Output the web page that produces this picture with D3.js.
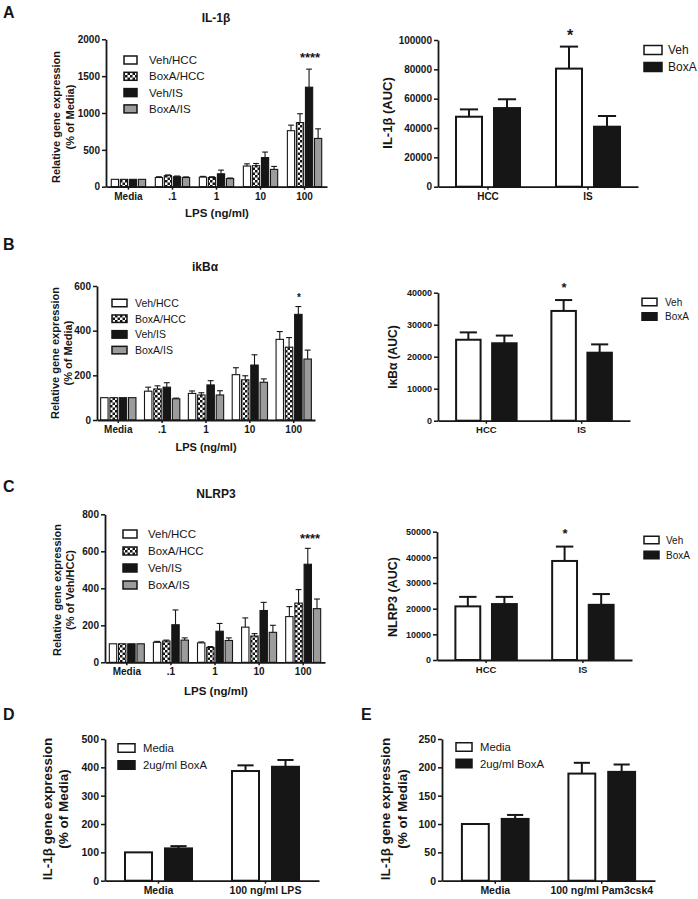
<!DOCTYPE html>
<html><head><meta charset="utf-8">
<script src="https://cdn.jsdelivr.net/npm/d3@7"></script>
<style>body{margin:0;background:#fff}svg{display:block}text{font-family:"Liberation Sans",Arial,sans-serif}</style>
</head><body>
<script>
// ---------- DATA ----------
const doseGroups = ["Media", ".1", "1", "10", "100"];
const doseSeries = ["Veh/HCC", "BoxA/HCC", "Veh/IS", "BoxA/IS"];

const il1bMeans = [[100,125,130,280,760],[100,150,125,285,870],[100,135,175,395,1350],[100,125,110,235,655]];
const il1bErrs  = [[0,10,10,30,75],[0,10,10,30,120],[0,10,50,75,245],[0,8,8,40,130]];
const il1bTicks = [0,500,1000,1500,2000];

const ikbMeans = [[100,129,119,203,361],[100,139,112,180,326],[100,147,157,246,473],[100,95,112,169,273]];
const ikbErrs  = [[0,18,11,31,35],[0,14,10,18,43],[0,20,19,46,35],[0,3,19,15,40]];
const ikbTicks = [0,200,400,600];

const nlrpMeans = [[100,108,105,190,247],[100,115,80,142,320],[100,203,168,280,530],[100,120,118,162,290]];
const nlrpErrs  = [[0,5,5,50,54],[0,5,5,13,73],[0,80,42,44,86],[0,12,14,38,52]];
const nlrpTicks = [0,200,400,600,800];

const aucGroups = ["HCC", "IS"];
const aucSeries = ["Veh", "BoxA"];
const il1bAucMeans = [[47700,80500],[53600,40900]];
const il1bAucErrs  = [[5000,15000],[6000,7300]];
const il1bAucTicks = [0,20000,40000,60000,80000,100000];
const ikbAucMeans = [[25300,34300],[24200,21250]];
const ikbAucErrs  = [[2300,3400],[2400,2600]];
const ikbAucTicks = [0,10000,20000,30000,40000];
const nlrpAucMeans = [[20900,38600],[21800,21500]];
const nlrpAucErrs  = [[3700,5600],[2800,4200]];
const nlrpAucTicks = [0,10000,20000,30000,40000,50000];

const boxSeries = ["Media", "2ug/ml BoxA"];
const lpsGroups = ["Media", "100 ng/ml LPS"];
const lpsMeans = [[100,387],[114,402]];
const lpsErrs  = [[0,20],[8,24]];
const lpsTicks = [0,100,200,300,400,500];
const pamGroups = ["Media", "100 ng/ml Pam3csk4"];
const pamMeans = [[100,189],[109,192]];
const pamErrs  = [[0,19],[7,13]];
const pamTicks = [0,50,100,150,200,250];

// ---------- DRAWING ----------
const svg = d3.select("body").append("svg").attr("width",698).attr("height",899);
const defs = svg.append("defs");
const pat = defs.append("pattern").attr("id","checker").attr("patternUnits","userSpaceOnUse")
  .attr("width",5).attr("height",5);
pat.append("rect").attr("width",5).attr("height",5).attr("fill","#fff");
pat.append("rect").attr("width",2.5).attr("height",2.5).attr("fill","#161616");
pat.append("rect").attr("x",2.5).attr("y",2.5).attr("width",2.5).attr("height",2.5).attr("fill","#161616");

const fills4 = ["#fff","url(#checker)","#161616","#9c9c9c"];
const fills2 = ["#fff","#161616"];
const INK = "#161616";

function chart(c) {
  const g = svg.append("g");
  const y = d3.scaleLinear().domain([0, c.max]).range([c.yB, c.yT]);
  const x0 = d3.scaleBand().domain(c.groups).range([c.xL, c.xR]).paddingInner(c.pi).paddingOuter(c.po);
  const x1 = d3.scaleBand().domain(c.series).range([0, x0.bandwidth()]).paddingInner(c.bp);
  c.series.forEach((s, si) => {
    c.groups.forEach((gr, gi) => {
      const v = c.means[si][gi], e = c.errs[si][gi];
      const bx = x0(gr) + x1(s), bw = x1.bandwidth();
      const cx = bx + bw / 2;
      if (e > 0) {
        g.append("line").attr("x1",cx).attr("x2",cx).attr("y1",y(v)).attr("y2",y(v+e))
          .attr("stroke",INK).attr("stroke-width",c.sw);
        g.append("line").attr("x1",cx - bw*c.cap/2).attr("x2",cx + bw*c.cap/2).attr("y1",y(v+e)).attr("y2",y(v+e))
          .attr("stroke",INK).attr("stroke-width",c.sw);
      }
      g.append("rect").attr("x",bx).attr("y",y(v)).attr("width",bw).attr("height",y(0)-y(v))
        .attr("fill",c.fills[si]).attr("stroke",INK).attr("stroke-width",c.sw);
    });
  });
  const ya = g.append("g").attr("transform",`translate(${c.xL},0)`)
    .call(d3.axisLeft(y).tickValues(c.ticks).tickFormat(d3.format("d")).tickSize(4).tickPadding(2).tickSizeOuter(0));
  const xa = g.append("g").attr("transform",`translate(0,${c.yB})`)
    .call(d3.axisBottom(x0).tickSize(3).tickPadding(3).tickSizeOuter(0));
  [ya, xa].forEach(a => {
    a.select(".domain").attr("stroke",INK).attr("stroke-width",1.8);
    a.selectAll(".tick line").attr("stroke",INK).attr("stroke-width",1.5);
    a.selectAll("text").attr("fill",INK).style("font-weight","bold").style("font-family",'"Liberation Sans",Arial,sans-serif');
  });
  ya.selectAll("text").style("font-size",c.tf+"px");
  xa.selectAll("text").style("font-size",c.xf+"px");
  c.ylab.forEach((t, i) => {
    g.append("text").attr("transform",`translate(${c.ylx[i]},${c.yly}) rotate(-90)`)
      .attr("text-anchor","middle").attr("dominant-baseline","central")
      .style("font-size",c.ylf+"px").style("font-weight","bold").attr("fill",INK).text(t);
  });
  if (c.xlab) g.append("text").attr("x",c.xlab[1]).attr("y",c.xlab[2]).attr("text-anchor","middle")
    .attr("dominant-baseline","central").style("font-size",c.xlf+"px").style("font-weight","bold").attr("fill",INK).text(c.xlab[0]);
  if (c.title) g.append("text").attr("x",c.title[1]).attr("y",c.title[2]).attr("text-anchor","middle")
    .attr("dominant-baseline","central").style("font-size","12px").style("font-weight","bold").attr("fill",INK).text(c.title[0]);
  c.series.forEach((s, si) => {
    const ly = c.leg.y + si * c.leg.dy;
    g.append("rect").attr("x",c.leg.x).attr("y",ly - c.leg.h/2).attr("width",c.leg.w).attr("height",c.leg.h)
      .attr("fill",c.fills[si]).attr("stroke",INK).attr("stroke-width",1.5);
    g.append("text").attr("x",c.leg.tx).attr("y",ly).attr("dominant-baseline","central")
      .style("font-size",c.leg.f+"px").attr("fill",INK).text(s);
  });
  if (c.star) g.append("text").attr("x",c.star[1]).attr("y",c.star[2]).attr("text-anchor","middle")
    .style("font-size",c.star[3]+"px").style("font-weight","bold").attr("fill",INK).text(c.star[0]);
}

[["A",3,18],["B",3,250],["C",3,492],["D",3,720],["E",361,720]].forEach(p=>{
  svg.append("text").attr("x",p[1]).attr("y",p[2]).style("font-size","16px").style("font-weight","bold").attr("fill",INK).text(p[0]);
});

const relLab = ["Relative gene expression","(% of Media)"];

chart({groups:doseGroups,series:doseSeries,means:il1bMeans,errs:il1bErrs,fills:fills4,max:2000,ticks:il1bTicks,
  xL:106,xR:327,yB:186.7,yT:39.3,pi:0.22,po:0.12,bp:0.2,sw:1.1,cap:0.8,tf:10,xf:10,
  ylab:relLab,ylx:[56,70],yly:117,ylf:11,xlab:["LPS (ng/ml)",217,213],xlf:11.5,title:["IL-1β",216,18],
  leg:{x:124,y:60,dy:16.3,w:13,h:8,tx:149,f:11.5},star:["****",310,62,13]});
chart({groups:aucGroups,series:aucSeries,means:il1bAucMeans,errs:il1bAucErrs,fills:fills2,max:100000,ticks:il1bAucTicks,
  xL:438,xR:638,yB:186.7,yT:40,pi:0.36,po:0.18,bp:0.316,sw:2,cap:0.7,tf:10,xf:10,
  ylab:["IL-1β (AUC)"],ylx:[387],yly:113,ylf:13,
  leg:{x:644,y:50,dy:17,w:18,h:9,tx:668,f:12},star:["*",570,41,16]});

chart({groups:doseGroups,series:doseSeries,means:ikbMeans,errs:ikbErrs,fills:fills4,max:600,ticks:ikbTicks,
  xL:97,xR:315,yB:420,yT:286,pi:0.195,po:0.083,bp:0.2,sw:1.1,cap:0.8,tf:10,xf:10,
  ylab:relLab,ylx:[55,68],yly:353,ylf:11,xlab:["LPS (ng/ml)",206,447],xlf:11,title:["ikBα",205,267],
  leg:{x:112,y:303,dy:15.7,w:15,h:7.5,tx:135,f:10.5},star:["*",299,300.5,10]});
chart({groups:aucGroups,series:aucSeries,means:ikbAucMeans,errs:ikbAucErrs,fills:fills2,max:40000,ticks:ikbAucTicks,
  xL:438,xR:630,yB:420.7,yT:292.7,pi:0.365,po:0.19,bp:0.32,sw:2,cap:0.7,tf:9,xf:9.5,
  ylab:["IκBα (AUC)"],ylx:[393],yly:357,ylf:12,
  leg:{x:642,y:302,dy:14.5,w:15,h:7.5,tx:665,f:10},star:["*",564,292,13]});

chart({groups:doseGroups,series:doseSeries,means:nlrpMeans,errs:nlrpErrs,fills:fills4,max:800,ticks:nlrpTicks,
  xL:105,xR:325,yB:662.3,yT:514.3,pi:0.206,po:0.098,bp:0.2,sw:1.1,cap:0.8,tf:10,xf:10,
  ylab:["Relative gene expression","(% of Veh/HCC)"],ylx:[57,70],yly:590,ylf:11,xlab:["LPS (ng/ml)",216,691],xlf:11.5,title:["NLRP3",216,494],
  leg:{x:123,y:534,dy:17,w:14,h:8,tx:148,f:11.5},star:["****",310,543,13]});
chart({groups:aucGroups,series:aucSeries,means:nlrpAucMeans,errs:nlrpAucErrs,fills:fills2,max:50000,ticks:nlrpAucTicks,
  xL:437,xR:632,yB:660,yT:531.7,pi:0.365,po:0.19,bp:0.32,sw:2,cap:0.7,tf:9,xf:9.5,
  ylab:["NLRP3 (AUC)"],ylx:[393],yly:597,ylf:12.5,
  leg:{x:644,y:540,dy:15,w:15,h:7.5,tx:666,f:10},star:["*",565,538,13]});

chart({groups:lpsGroups,series:boxSeries,means:lpsMeans,errs:lpsErrs,fills:fills2,max:500,ticks:lpsTicks,
  xL:105,xR:319,yB:880.7,yT:739,pi:0.374,po:0.187,bp:0.325,sw:2,cap:0.6,tf:10.5,xf:10.5,
  ylab:["IL-1β gene expression","(% of Media)"],ylx:[47,63],yly:809,ylf:13.5,
  leg:{x:118,y:748,dy:17,w:17,h:8.5,tx:143,f:11.3}});
chart({groups:pamGroups,series:boxSeries,means:pamMeans,errs:pamErrs,fills:fills2,max:250,ticks:pamTicks,
  xL:442,xR:655,yB:880.7,yT:739,pi:0.374,po:0.187,bp:0.325,sw:2,cap:0.6,tf:10.5,xf:10.5,
  ylab:["IL-1β gene expression","(% of Media)"],ylx:[385,402],yly:809,ylf:13.5,
  leg:{x:456,y:747,dy:16.5,w:16,h:8.5,tx:480,f:11.3}});
</script>
</body></html>
